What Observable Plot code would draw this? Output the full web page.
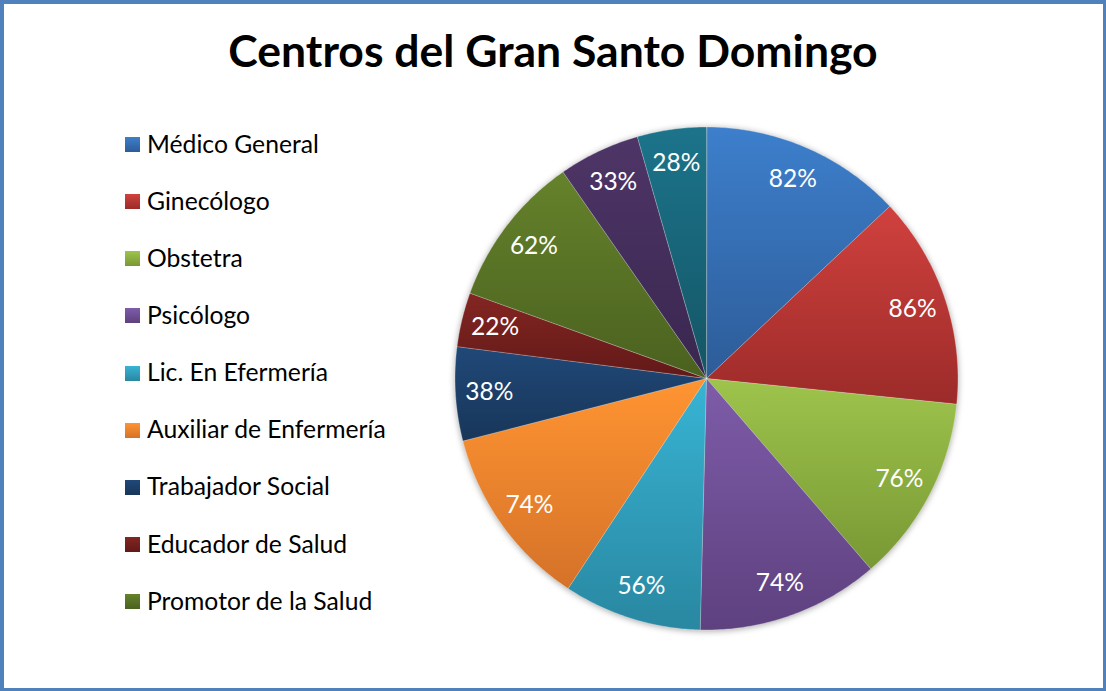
<!DOCTYPE html>
<html>
<head>
<meta charset="utf-8">
<script src="https://cdn.jsdelivr.net/npm/d3@7"></script>
<script src="https://cdn.jsdelivr.net/npm/@observablehq/plot@0.6"></script>
<style>
  html, body { margin: 0; padding: 0; background: #fff; }
  #wrap { position: relative; width: 1106px; height: 691px; overflow: hidden; background: #fff; }
  #frame { position: absolute; left: 0; top: 0; right: 0; bottom: 0; box-sizing: border-box;
           border-style: solid; border-color: #4F81BD; border-width: 4px 3px 3px 4px; pointer-events: none; z-index: 5; }
  #title { position: absolute; left: 0; width: 1106px; top: 28px; text-align: center;
           font-family: Lato, "Open Sans", sans-serif; font-weight: 700; font-size: 44.5px; line-height: 44px; color: #000; }
  #legend { position: absolute; left: 125px; top: 0; font-family: Lato, "Open Sans", sans-serif; font-size: 24.7px; color: #000; }
  .row { position: absolute; left: 0; height: 30px; display: flex; align-items: center; white-space: nowrap; }
  .sw { width: 15px; height: 15px; margin-right: 7px; flex: none; position: relative; top: 1.5px; }
  #chart { position: absolute; left: 0; top: 0; }
  #chart g[aria-label="geo"] { filter: drop-shadow(0px 1px 3px rgba(0,0,0,0.35)); }
</style>
</head>
<body>
<div id="wrap">
  <div id="title"></div>
  <div id="legend"></div>
  <div id="chart"></div>
  <div id="frame"></div>
</div>
<script>
const titleText = "Centros del Gran Santo Domingo";
const categories = [
  "Médico General", "Ginecólogo", "Obstetra", "Psicólogo", "Lic. En Efermería",
  "Auxiliar de Enfermería", "Trabajador Social", "Educador de Salud", "Promotor de la Salud",
  "Categoría 10", "Categoría 11"
];
const values = [82, 86, 76, 74, 56, 74, 38, 22, 62, 33, 28];
const legendCount = 9; // the legend in the original only shows the first nine entries
const colorTop = ["#3D7FCC", "#D0413E", "#9EC44C", "#7E5CA9", "#38B4D4", "#FF9431", "#204878", "#842622", "#65822B", "#4E3567", "#1C748B"];
const colorBottom = ["#2D5C98", "#9C2B29", "#789834", "#5E417F", "#2987A1", "#D57229", "#183659", "#611918", "#4A611F", "#39274F", "#145565"];

// Pie layout (clockwise from 12 o'clock), in unit coordinates (y down)
const pie = d3.pie().sort(null).value(d => d.value);
const data = categories.map((name, i) => ({name, value: values[i]}));
const arcs = pie(data);

const features = arcs.map(a => {
  const ring = [[0, 0]];
  const n = Math.max(2, Math.ceil((a.endAngle - a.startAngle) / 0.01));
  for (let k = 0; k <= n; k++) {
    const t = a.startAngle + (a.endAngle - a.startAngle) * k / n;
    ring.push([Math.sin(t), -Math.cos(t)]);
  }
  ring.push([0, 0]);
  return {type: "Feature", properties: {name: a.data.name}, geometry: {type: "Polygon", coordinates: [ring]}};
});

const labelRadius = 0.865;
const labels = arcs.map(a => {
  const m = (a.startAngle + a.endAngle) / 2;
  return {name: a.data.name, x: labelRadius * Math.sin(m), y: -labelRadius * Math.cos(m), text: a.data.value + "%"};
});

const cx = 706, cy = 378, R = 251.5;

const plot = Plot.plot({
  width: 1106,
  height: 691,
  margin: 0,
  projection: () => d3.geoIdentity().scale(R).translate([cx, cy]),
  color: {domain: categories, range: categories.map((_, i) => `url(#grad${i})`)},
  marks: [
    Plot.geo(features, {fill: d => d.properties.name, stroke: "#ffffff", strokeOpacity: 0.35, strokeWidth: 0.8}),
    Plot.text(labels, {x: "x", y: "y", text: "text", fill: "white", fontSize: 24.5,
      fontFamily: "Lato, 'Open Sans', sans-serif", textAnchor: "middle", lineAnchor: "middle"})
  ]
});

// gradients (light at top, darker at bottom, like the original)
const ns = "http://www.w3.org/2000/svg";
const defs = document.createElementNS(ns, "defs");
colorTop.forEach((c, i) => {
  const g = document.createElementNS(ns, "linearGradient");
  g.setAttribute("id", "grad" + i);
  g.setAttribute("x1", "0"); g.setAttribute("y1", "0"); g.setAttribute("x2", "0"); g.setAttribute("y2", "1");
  const s0 = document.createElementNS(ns, "stop"); s0.setAttribute("offset", "0"); s0.setAttribute("stop-color", c);
  const s1 = document.createElementNS(ns, "stop"); s1.setAttribute("offset", "1"); s1.setAttribute("stop-color", colorBottom[i]);
  g.appendChild(s0); g.appendChild(s1); defs.appendChild(g);
});
plot.insertBefore(defs, plot.firstChild);
document.getElementById("chart").appendChild(plot);

document.getElementById("title").textContent = titleText;

const legend = document.getElementById("legend");
const rowStart = 143, rowStep = 57.15;
categories.slice(0, legendCount).forEach((name, i) => {
  const row = document.createElement("div");
  row.className = "row";
  row.style.top = (rowStart + rowStep * i - 15) + "px";
  const sw = document.createElement("div");
  sw.className = "sw";
  sw.style.background = `linear-gradient(${colorTop[i]}, ${colorBottom[i]})`;
  const tx = document.createElement("span");
  tx.textContent = name;
  row.appendChild(sw); row.appendChild(tx);
  legend.appendChild(row);
});
</script>
</body>
</html>
